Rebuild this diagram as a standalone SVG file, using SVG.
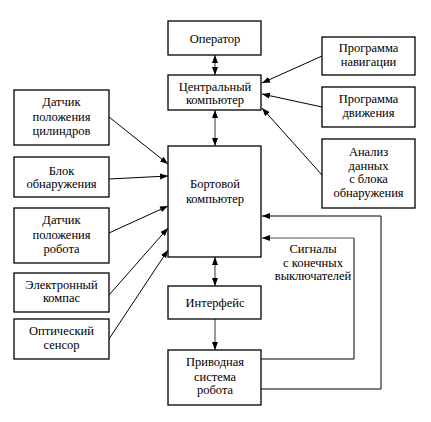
<svg xmlns="http://www.w3.org/2000/svg" width="431" height="422" viewBox="0 0 431 422">
<defs>
<style>
.box{fill:#fff;stroke:#000;stroke-width:1.3}
.t{font-family:'Liberation Serif','DejaVu Serif',serif;font-size:12.5px;fill:#000;text-anchor:middle}
.c{fill:none;stroke:#000;stroke-width:1}
.g{fill:none;stroke:#999;stroke-width:2}
</style>
<marker id="ah" markerUnits="userSpaceOnUse" markerWidth="8" markerHeight="8" viewBox="0 0 8 6" refX="8" refY="3" orient="auto-start-reverse">
<path d="M0,0 L8,3 L0,6 z" fill="#000"/>
</marker>
</defs>
<rect width="431" height="422" fill="#fff"/>
<g id="connectors">
<line class="g" x1="215" y1="55" x2="215" y2="75" marker-start="url(#ah)" marker-end="url(#ah)"/>
<line class="c" x1="322" y1="56" x2="262" y2="83" marker-end="url(#ah)"/>
<line class="c" x1="322" y1="107" x2="262" y2="94" marker-end="url(#ah)"/>
<line class="c" x1="322" y1="175" x2="262" y2="108" marker-end="url(#ah)"/>
<line class="g" x1="215" y1="110" x2="215" y2="146" marker-start="url(#ah)" marker-end="url(#ah)"/>
<line class="c" x1="109" y1="117" x2="168" y2="164" marker-end="url(#ah)"/>
<line class="c" x1="109" y1="179" x2="168" y2="176" marker-end="url(#ah)"/>
<line class="c" x1="109" y1="233" x2="168" y2="206" marker-end="url(#ah)"/>
<line class="c" x1="109" y1="295" x2="168" y2="228" marker-end="url(#ah)"/>
<line class="c" x1="109" y1="339" x2="168" y2="250" marker-end="url(#ah)"/>
<line class="g" x1="215" y1="257" x2="215" y2="286" marker-start="url(#ah)" marker-end="url(#ah)"/>
<line class="g" x1="215" y1="319" x2="215" y2="350" marker-end="url(#ah)"/>
<polyline class="c" points="261,359 354,359 354,238"/>
<line x1="354" y1="238" x2="262" y2="238" stroke="#888" stroke-width="1.5" marker-end="url(#ah)"/>
<polyline class="c" points="261,389 381,389 381,216 262,216" marker-end="url(#ah)"/>
</g>
<g font-family="Liberation Serif, serif">
<g id="operator"><rect class="box" x="168" y="21" width="93" height="34"/><text class="t" x="215" y="43">Оператор</text></g>
<g id="central"><rect class="box" x="168" y="75" width="93" height="35"/><text class="t" x="215" y="91">Центральный</text><text class="t" x="215" y="104">компьютер</text></g>
<g id="nav"><rect class="box" x="322" y="37" width="93" height="38"/><text class="t" x="368.5" y="52">Программа</text><text class="t" x="368.5" y="66">навигации</text></g>
<g id="motion"><rect class="box" x="322" y="87" width="93" height="40"/><text class="t" x="368.5" y="103">Программа</text><text class="t" x="368.5" y="117">движения</text></g>
<g id="analysis"><rect class="box" x="322" y="139" width="93" height="69"/><text class="t" x="368.5" y="156">Анализ</text><text class="t" x="368.5" y="170">данных</text><text class="t" x="368.5" y="183">с блока</text><text class="t" x="368.5" y="197">обнаружения</text></g>
<g id="cyl"><rect class="box" x="14" y="90" width="95" height="55"/><text class="t" x="61.5" y="106">Датчик</text><text class="t" x="61.5" y="121">положения</text><text class="t" x="61.5" y="135">цилиндров</text></g>
<g id="detect"><rect class="box" x="14" y="157" width="95" height="40"/><text class="t" x="61.5" y="175">Блок</text><text class="t" x="61.5" y="188">обнаружения</text></g>
<g id="onboard"><rect class="box" x="168" y="146" width="93" height="111"/><text class="t" x="215" y="188">Бортовой</text><text class="t" x="215" y="203">компьютер</text></g>
<g id="robotpos"><rect class="box" x="14" y="208" width="95" height="55"/><text class="t" x="61.5" y="224">Датчик</text><text class="t" x="61.5" y="239">положения</text><text class="t" x="61.5" y="253">робота</text></g>
<g id="compass"><rect class="box" x="14" y="273" width="95" height="39"/><text class="t" x="61.5" y="289">Электронный</text><text class="t" x="61.5" y="302">компас</text></g>
<g id="optic"><rect class="box" x="14" y="319" width="95" height="40"/><text class="t" x="61.5" y="335">Оптический</text><text class="t" x="61.5" y="349">сенсор</text></g>
<g id="interface"><rect class="box" x="168" y="286" width="93" height="33"/><text class="t" x="215" y="307">Интерфейс</text></g>
<g id="drive"><rect class="box" x="168" y="350" width="93" height="55"/><text class="t" x="215" y="366">Приводная</text><text class="t" x="215" y="381">система</text><text class="t" x="215" y="394">робота</text></g>
<g id="signals-label"><text class="t" x="313" y="253">Сигналы</text><text class="t" x="313" y="267">с конечных</text><text class="t" x="313" y="280">выключателей</text></g>
</g>
</svg>
